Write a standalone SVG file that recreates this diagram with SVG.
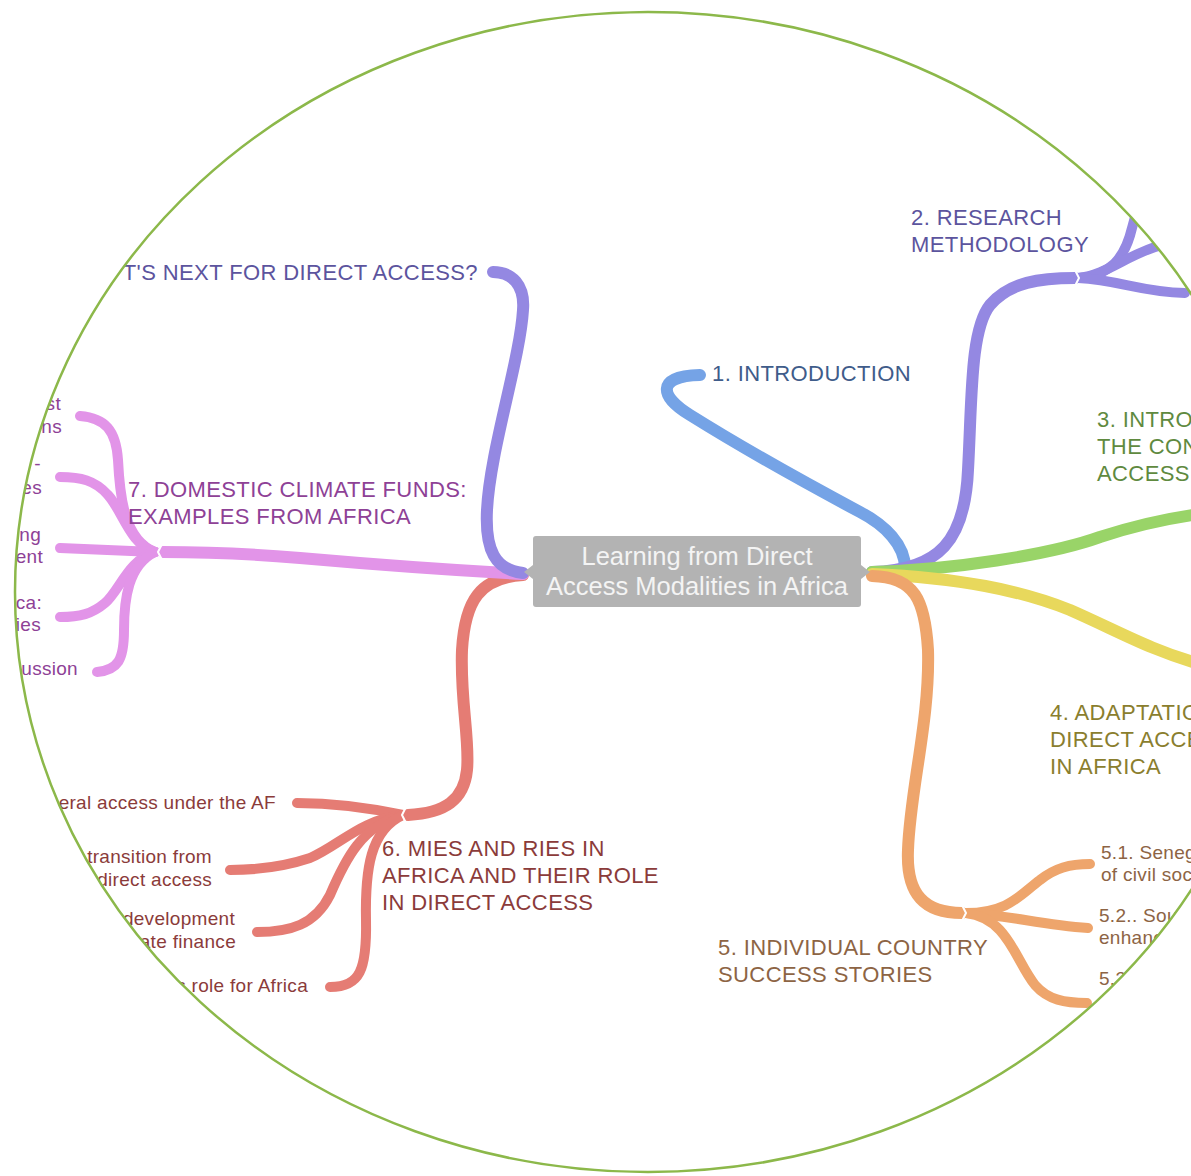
<svg xmlns="http://www.w3.org/2000/svg" width="1191" height="1176" viewBox="0 0 1191 1176">
<defs>
<clipPath id="oval"><ellipse cx="648" cy="592" rx="633" ry="580"/></clipPath>
<style>
.br{fill:none;stroke-linecap:round;stroke-linejoin:round}
.m{stroke-width:12}
.s{stroke-width:10}
.lbl{font-family:"Liberation Sans",Arial,sans-serif;font-size:22px;letter-spacing:0.4px}
.sub{font-family:"Liberation Sans",Arial,sans-serif;font-size:19px;letter-spacing:0.3px}
.gap{fill:none;stroke:#fff;stroke-width:2}
</style>
</defs>
<rect width="1191" height="1176" fill="#fff"/>
<g clip-path="url(#oval)">
<g id="connectors">
<path class="br m" stroke="#75a3e6" d="M 905 568 C 905 545, 885 525, 860 512 C 800 480, 730 440, 690 415 C 660 397, 655 376, 700 375"/>
<path class="br m" stroke="#9488e2" d="M 872 572 C 940 570, 965 540, 968 470 C 972 400, 970 330, 990 305 C 1010 282, 1040 278, 1075 278"/>
<path class="br s" stroke="#9488e2" d="M 1078 278 C 1110 276, 1125 258, 1132 228 L 1145 180"/>
<path class="br s" stroke="#9488e2" d="M 1078 278 C 1108 275, 1130 252, 1165 244"/>
<path class="br s" stroke="#9488e2" d="M 1078 278 C 1120 280, 1140 292, 1185 293"/>
<path class="br m" stroke="#99d468" d="M 872 572 C 950 570, 1050 555, 1100 537 C 1140 524, 1170 518, 1200 514"/>
<path class="br m" stroke="#e8d85c" d="M 872 574 C 960 578, 1020 590, 1070 610 C 1120 632, 1150 650, 1200 664"/>
<path class="br m" stroke="#eea56c" d="M 872 576 C 915 577, 925 600, 928 650 C 930 720, 910 790, 908 850 C 906 895, 925 913, 962 913"/>
<path class="br s" stroke="#eea56c" d="M 966 913 C 1008 913, 1020 895, 1040 880 C 1055 868, 1070 864, 1090 864"/>
<path class="br s" stroke="#eea56c" d="M 966 913 C 1010 915, 1040 925, 1088 928"/>
<path class="br s" stroke="#eea56c" d="M 966 913 C 1008 918, 1015 960, 1035 985 C 1048 1000, 1065 1003, 1087 1003"/>
<path class="br m" stroke="#e57c74" d="M 523 575 C 480 578, 465 600, 462 650 C 460 700, 470 740, 467 770 C 464 800, 445 813, 408 815"/>
<path class="br s" stroke="#e57c74" d="M 403 815 C 370 808, 330 803, 297 803"/>
<path class="br s" stroke="#e57c74" d="M 403 815 C 360 820, 340 845, 310 858 C 280 868, 255 870, 230 870"/>
<path class="br s" stroke="#e57c74" d="M 403 815 C 362 825, 345 860, 330 895 C 315 925, 290 932, 257 932"/>
<path class="br s" stroke="#e57c74" d="M 403 815 C 370 830, 365 870, 366 920 C 367 970, 360 987, 330 987"/>
<path class="br m" stroke="#e294e8" d="M 523 574 C 450 570, 380 565, 300 558 C 240 553, 200 552, 163 552"/>
<path class="br s" stroke="#e294e8" d="M 155 552 C 125 540, 120 500, 118 460 C 116 430, 105 418, 80 416"/>
<path class="br s" stroke="#e294e8" d="M 155 552 C 130 545, 122 510, 108 495 C 95 480, 80 477, 60 477"/>
<path class="br s" stroke="#e294e8" d="M 155 552 L 60 548"/>
<path class="br s" stroke="#e294e8" d="M 155 552 C 128 560, 120 590, 105 603 C 92 614, 80 617, 60 617"/>
<path class="br s" stroke="#e294e8" d="M 155 552 C 128 565, 124 600, 124 630 C 124 660, 118 670, 97 672"/>
<path class="br m" stroke="#9488e2" d="M 523 573 C 495 570, 485 550, 487 510 C 490 450, 520 360, 523 310 C 525 285, 512 272, 493 272"/>
<polyline class="gap" points="1075,270 1079,278 1075,286"/>
<polyline class="gap" points="962,905 966,913 962,921"/>
<polyline class="gap" points="406,807 402,815 406,823"/>
<polyline class="gap" points="162,544 158,552 162,560"/>
</g>

<g id="center">
<rect x="533" y="536" width="328" height="71" rx="3" fill="#b3b3b3"/>
<polygon points="533,565 524,572 533,579" fill="#b3b3b3"/>
<polygon points="861,565 870,572 861,579" fill="#b3b3b3"/>
<text x="697" y="565" text-anchor="middle" font-family="Liberation Sans, Arial, sans-serif" font-size="25.5" fill="#f4f4f4">Learning from Direct</text>
<text x="697" y="595" text-anchor="middle" font-family="Liberation Sans, Arial, sans-serif" font-size="25.5" fill="#f4f4f4">Access Modalities in Africa</text>
</g>

<g id="n1"><text class="lbl" x="712" y="381" fill="#3f5c8a">1. INTRODUCTION</text></g>
<g id="n2"><text class="lbl" fill="#5c549e"><tspan x="911" y="225">2. RESEARCH</tspan><tspan x="911" y="252">METHODOLOGY</tspan></text></g>
<g id="n3"><text class="lbl" fill="#5f8a3f"><tspan x="1097" y="427">3. INTRO</tspan><tspan x="1097" y="454">THE CON</tspan><tspan x="1097" y="481">ACCESS</tspan></text></g>
<g id="n4"><text class="lbl" fill="#8a7e2e"><tspan x="1050" y="720">4. ADAPTATIO</tspan><tspan x="1050" y="747">DIRECT ACCE</tspan><tspan x="1050" y="774">IN AFRICA</tspan></text></g>
<g id="n5"><text class="lbl" fill="#8d6444"><tspan x="718" y="955">5. INDIVIDUAL COUNTRY</tspan><tspan x="718" y="982">SUCCESS STORIES</tspan></text></g>
<g id="n5-1"><text class="sub" fill="#8d6444"><tspan x="1101" y="859">5.1. Seneg</tspan><tspan x="1101" y="881">of civil soc</tspan></text></g>
<g id="n5-2"><text class="sub" fill="#8d6444"><tspan x="1099" y="922">5.2.. Sou</tspan><tspan x="1099" y="944">enhanc</tspan></text></g>
<g id="n5-3"><text class="sub" fill="#8d6444" x="1099" y="985">5.3</text></g>
<g id="n6"><text class="lbl" fill="#8b3b3a"><tspan x="382" y="856">6. MIES AND RIES IN</tspan><tspan x="382" y="883">AFRICA AND THEIR ROLE</tspan><tspan x="382" y="910">IN DIRECT ACCESS</tspan></text></g>
<g id="n6-1"><text class="sub" fill="#8b3b3a" text-anchor="end" x="276" y="809">eral access under the AF</text></g>
<g id="n6-2"><text class="sub" fill="#8b3b3a" text-anchor="end"><tspan x="212" y="863">transition from</tspan><tspan x="212" y="886">direct access</tspan></text></g>
<g id="n6-3"><text class="sub" fill="#8b3b3a" text-anchor="end"><tspan x="235" y="925">development</tspan><tspan x="236" y="948">ate finance</tspan></text></g>
<g id="n6-4"><text class="sub" fill="#8b3b3a" text-anchor="end" x="308" y="992">s role for Africa</text></g>
<g id="n7"><text class="lbl" fill="#8e4196"><tspan x="128" y="497">7. DOMESTIC CLIMATE FUNDS:</tspan><tspan x="128" y="524">EXAMPLES FROM AFRICA</tspan></text></g>
<g id="n7-1"><text class="sub" fill="#8e4196" text-anchor="end"><tspan x="61" y="410">st</tspan><tspan x="62" y="433">ns</tspan></text></g>
<g id="n7-2"><text class="sub" fill="#8e4196" text-anchor="end"><tspan x="41" y="470">-</tspan><tspan x="42" y="494">es</tspan></text></g>
<g id="n7-3"><text class="sub" fill="#8e4196" text-anchor="end"><tspan x="41" y="541">ng</tspan><tspan x="43" y="563">ent</tspan></text></g>
<g id="n7-4"><text class="sub" fill="#8e4196" text-anchor="end"><tspan x="42" y="609">ca:</tspan><tspan x="41" y="631">ies</tspan></text></g>
<g id="n7-5"><text class="sub" fill="#8e4196" text-anchor="end" x="78" y="675">ussion</text></g>
<g id="n8"><text class="lbl" fill="#5c549e" text-anchor="end" x="478" y="280">T'S NEXT FOR DIRECT ACCESS?</text></g>
</g>
<ellipse cx="648" cy="592" rx="633" ry="580" fill="none" stroke="#8cb84a" stroke-width="2.5"/>
</svg>
